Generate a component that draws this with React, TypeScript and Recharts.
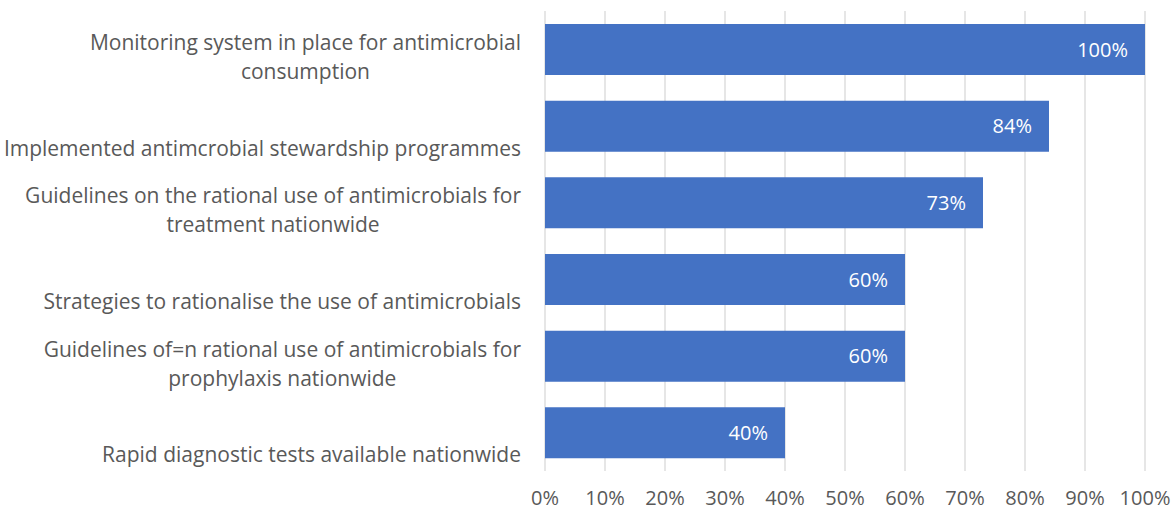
import React from "react";
import { BarChart, Bar, XAxis, YAxis, CartesianGrid, LabelList } from "recharts";

// category labels (\n marks where the original wraps)
const categories = [
  "Monitoring system in place for antimicrobial\nconsumption",
  "Implemented antimcrobial stewardship programmes",
  "Guidelines on the rational use of antimicrobials for\ntreatment nationwide",
  "Strategies to rationalise the use of antimicrobials",
  "Guidelines of=n rational use of antimicrobials for\nprophylaxis nationwide",
  "Rapid diagnostic tests available nationwide",
];
const values = [100, 84, 73, 60, 60, 40];
const xTicks = [0, 10, 20, 30, 40, 50, 60, 70, 80, 90, 100];

const data = categories.map((name, i) => ({ name, value: values[i] }));

const FONT = "'Open Sans', sans-serif";
const FONT_SIZE = 20;
const LABEL_SIZE = 21;
const TEXT_COLOR = "#595959";
const BAR_COLOR = "#4472C4";
const GRID_COLOR = "#D9D9D9";
const LINE_HEIGHT = 29;

let ctx: CanvasRenderingContext2D | null = null;
function textWidth(s: string) {
  if (!ctx) ctx = document.createElement("canvas").getContext("2d");
  if (!ctx) return s.length * LABEL_SIZE * 0.5;
  ctx.font = `${LABEL_SIZE}px 'Open Sans'`;
  return ctx.measureText(s).width;
}

// Excel-style label: block right aligned, wrapped lines centred, last line near bar bottom
function CategoryTick(props: any) {
  const { x, y, payload } = props;
  const lines = String(payload.value).split("\n");
  const w = Math.max(...lines.map(textWidth));
  const cx = x - w / 2;
  const n = lines.length;
  return (
    <g>
      {lines.map((line, i) => (
        <text
          key={i}
          x={cx}
          y={y + 29.5 - (n - 1 - i) * LINE_HEIGHT}
          textAnchor="middle"
          fill={TEXT_COLOR}
          fontFamily={FONT}
          fontSize={LABEL_SIZE}
        >
          {line}
        </text>
      ))}
    </g>
  );
}

export default function App() {
  return (
    <div style={{ position: "absolute", left: 0, top: 0, background: "#fff" }}>
      <BarChart
        width={1173}
        height={511}
        data={data}
        layout="vertical"
        barCategoryGap="17%"
        margin={{ top: 11, right: 28, bottom: 0, left: 0 }}
      >
        <CartesianGrid horizontal={false} stroke={GRID_COLOR} strokeWidth={1.3} />
        <XAxis
          type="number"
          domain={[0, 100]}
          ticks={xTicks}
          tickFormatter={(v) => `${v}%`}
          axisLine={false}
          tickLine={false}
          tickSize={0}
          tickMargin={20}
          height={40}
          interval={0}
          tick={{ fill: TEXT_COLOR, fontSize: FONT_SIZE, fontFamily: FONT }}
        />
        <YAxis
          type="category"
          dataKey="name"
          width={545}
          axisLine={false}
          tickLine={false}
          tickSize={0}
          tickMargin={24}
          interval={0}
          tick={<CategoryTick />}
        />
        <Bar dataKey="value" fill={BAR_COLOR} isAnimationActive={false}>
          <LabelList
            dataKey="value"
            position="insideRight"
            offset={17}
            formatter={(v: any) => `${v}%`}
            fill="#fff"
            fontSize={FONT_SIZE}
            fontFamily={FONT}
          />
        </Bar>
      </BarChart>
    </div>
  );
}
